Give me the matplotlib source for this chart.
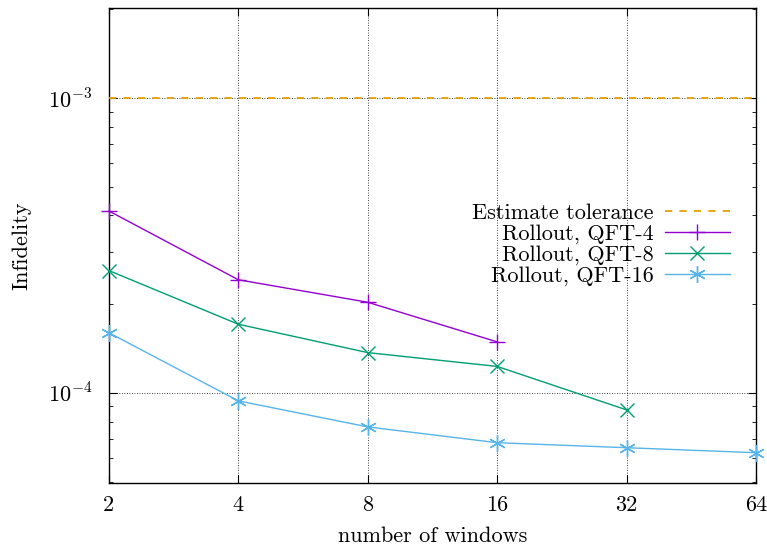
import matplotlib
matplotlib.use("Agg")
import matplotlib.pyplot as plt
from matplotlib.ticker import FixedLocator, LogLocator, NullFormatter

plt.rcParams['font.family'] = 'serif'
plt.rcParams['font.serif'] = ['cmr10', 'DejaVu Serif']
plt.rcParams['mathtext.fontset'] = 'cm'
plt.rcParams['axes.formatter.use_mathtext'] = True

# data
windows = [2, 4, 8, 16, 32, 64]
qft4 = [4.14e-4, 2.42e-4, 2.03e-4, 1.49e-4]
qft8 = [2.60e-4, 1.71e-4, 1.37e-4, 1.23e-4, 8.76e-5]
qft16 = [1.60e-4, 9.4e-5, 7.67e-5, 6.78e-5, 6.52e-5, 6.27e-5]
tolerance = 1e-3

fs = 16

fig = plt.figure(figsize=(7.67, 5.46), dpi=100)
ax = fig.add_axes([0.142, 0.1154, 0.8437, 0.8699])

ax.set_xscale('log', base=2)
ax.set_yscale('log')
ax.set_xlim(2, 64)
ax.set_ylim(4.95e-5, 2.02e-3)

ax.axhline(tolerance, color='#e69f00', ls=(0, (4, 4)), lw=1.3, label='Estimate tolerance', zorder=3)
ax.plot(windows[:4], qft4, color='#9400d3', marker='+', ms=12, mew=1.0, lw=1.0,
        label='Rollout, QFT-4', clip_on=False, zorder=4)
ax.plot(windows[:5], qft8, color='#009e73', marker='x', ms=10, mew=1.0, lw=1.0,
        label='Rollout, QFT-8', clip_on=False, zorder=4)
ax.plot(windows, qft16, color='#56b4e9', marker=(6, 2, 0), ms=12, mew=1.0, lw=1.0,
        label='Rollout, QFT-16', clip_on=False, zorder=4)

ax.xaxis.set_major_locator(FixedLocator(windows))
ax.set_xticklabels([str(w) for w in windows])
ax.xaxis.set_minor_locator(FixedLocator([]))
ax.yaxis.set_major_locator(FixedLocator([1e-4, 1e-3]))
ax.set_yticklabels([r'$10^{-4}$', r'$10^{-3}$'])
ax.yaxis.set_minor_locator(LogLocator(base=10, subs=range(2, 10)))
ax.yaxis.set_minor_formatter(NullFormatter())

ax.tick_params(which='both', direction='in', top=True, right=True, labelsize=fs)
ax.tick_params(axis='x', pad=9)
ax.tick_params(axis='y', pad=12)
ax.tick_params(which='major', length=6)
ax.tick_params(which='minor', length=3)
ax.grid(True, which='major', color='black', ls=(0, (1, 2)), lw=0.6)
for s in ax.spines.values():
    s.set_linewidth(1.0)

ax.set_xlabel('number of windows', fontsize=fs, labelpad=8)
ax.set_ylabel('Infidelity', fontsize=fs, labelpad=12)

ax.legend(loc='upper right', bbox_to_anchor=(0.959, 0.588), frameon=False, markerfirst=False,
          fontsize=fs, handlelength=2.9, labelspacing=0.05, handletextpad=0.5, borderaxespad=0,
          borderpad=0)

fig.savefig('out.png', dpi=100)
